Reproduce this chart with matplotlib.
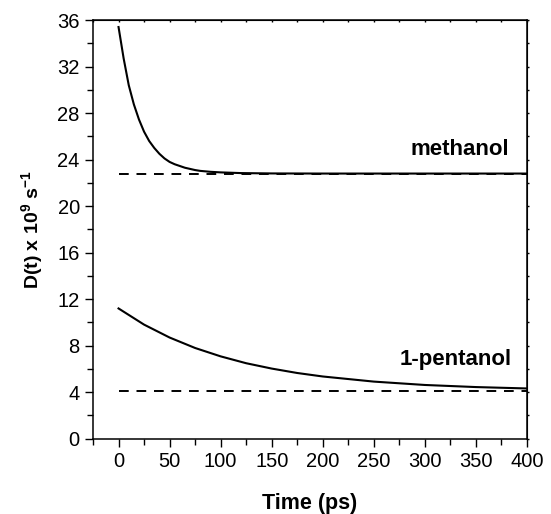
import matplotlib
matplotlib.use("Agg")
import matplotlib.pyplot as plt
from matplotlib.ticker import MultipleLocator

plt.rcParams['font.family'] = ['Liberation Sans', 'DejaVu Sans']
plt.rcParams['mathtext.fontset'] = 'custom'
plt.rcParams['mathtext.bf'] = 'Liberation Sans:bold'
plt.rcParams['mathtext.rm'] = 'Liberation Sans'

# values
t_meth = [0, 5, 10, 15, 20, 25, 30, 35, 40, 45, 50, 55, 60, 65, 70, 75, 80, 90,
          100, 120, 150, 200, 300, 400]
d_meth = [35.4, 32.7, 30.4, 28.75, 27.45, 26.4, 25.6, 25.0, 24.5, 24.1, 23.8,
          23.6, 23.45, 23.3, 23.2, 23.1, 23.03, 22.95, 22.9, 22.84, 22.81, 22.8,
          22.8, 22.8]

t_pent = [0, 25, 50, 75, 100, 125, 150, 175, 200, 250, 300, 350, 400]
d_pent = [11.2, 9.81, 8.7, 7.8, 7.08, 6.49, 6.03, 5.65, 5.35, 4.91, 4.62, 4.44, 4.32]

# long-time limits (dashed)
t_limit = [0, 400]
meth_limit = [22.8, 22.8]
pent_limit = [4.1, 4.1]

labels = ["methanol", "1-pentanol"]

fig = plt.figure(figsize=(5.51, 5.14), dpi=100)
ax = fig.add_axes([0.1688, 0.1465, 0.7876, 0.8145])

ax.plot(t_meth, d_meth, color='black', lw=1.5)
ax.plot(t_pent, d_pent, color='black', lw=1.5)
ax.plot(t_limit, meth_limit, color='black', lw=1.4, ls=(0, (5, 4)))
ax.plot(t_limit, pent_limit, color='black', lw=1.4, ls=(0, (5, 4)))

ax.text(383, 24.9, labels[0], ha='right', va='center', fontsize=16, fontweight='bold')
ax.text(385, 6.8, labels[1], ha='right', va='center', fontsize=16, fontweight='bold')

ax.set_xlim(-25, 400)
ax.set_ylim(0, 36)
ax.xaxis.set_major_locator(MultipleLocator(50))
ax.xaxis.set_minor_locator(MultipleLocator(25))
ax.yaxis.set_major_locator(MultipleLocator(4))
ax.yaxis.set_minor_locator(MultipleLocator(2))
ax.set_xticks([0, 50, 100, 150, 200, 250, 300, 350, 400])

ax.tick_params(axis='both', which='major', direction='out', length=6, width=1,
               labelsize=14.5)
ax.tick_params(axis='both', which='minor', direction='out', length=4, width=1)

# tiny ticks on top and right
top = ax.secondary_xaxis('top')
top.xaxis.set_major_locator(MultipleLocator(25))
top.tick_params(direction='in', length=1.5, width=1, labeltop=False)
right = ax.secondary_yaxis('right')
right.yaxis.set_major_locator(MultipleLocator(2))
right.tick_params(direction='out', length=1.5, width=1, labelright=False)

for s in ax.spines.values():
    s.set_linewidth(1.1)

ax.set_xlabel('Time (ps)', fontsize=15.5, fontweight='bold', labelpad=16)
ax.set_ylabel(r'D(t) x 10$^\mathbf{9}$ s$^\mathbf{-1}$', fontsize=14,
              fontweight='bold', labelpad=8)

fig.savefig('out.png', dpi=100)
